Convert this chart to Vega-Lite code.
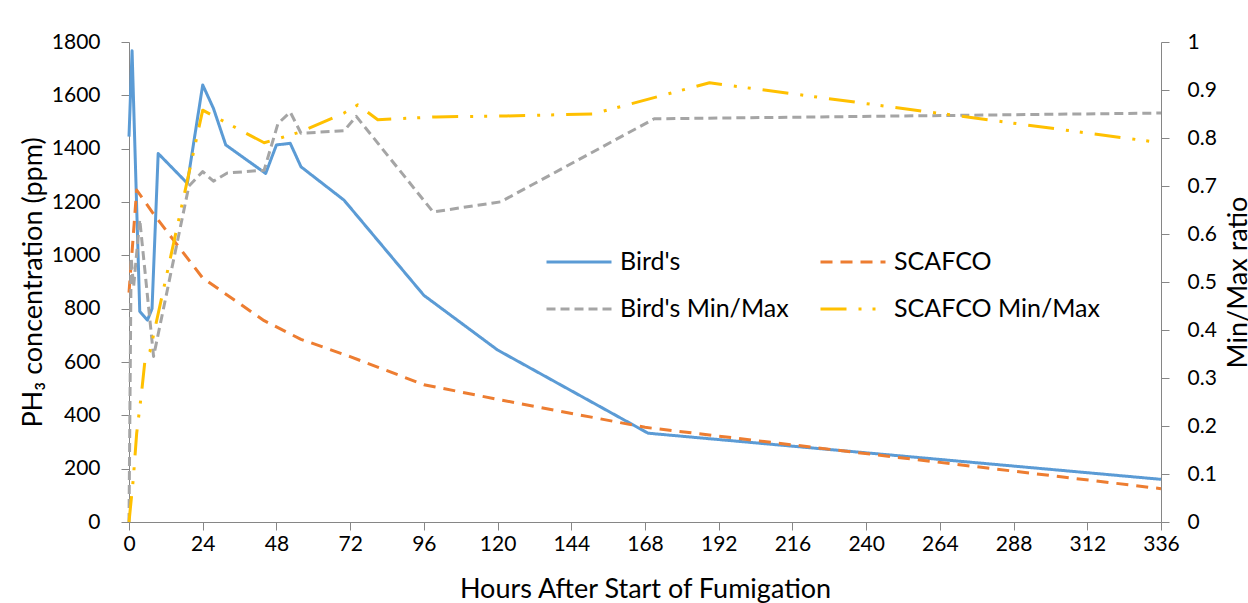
{
  "$schema": "https://vega.github.io/schema/vega-lite/v6.json",
  "width": 1032,
  "height": 480,
  "autosize": {"type": "none"},
  "padding": {"left": 129, "top": 42, "right": 87, "bottom": 81},
  "background": "white",
  "config": {
    "view": {"stroke": null},
    "font": "Lato",
    "axis": {
      "domainColor": "#868686",
      "tickColor": "#868686",
      "domainWidth": 1,
      "tickWidth": 1,
      "grid": false,
      "labelFont": "Lato",
      "labelFontSize": 21,
      "labelColor": "#000000",
      "titleFont": "Lato",
      "titleFontSize": 27,
      "titleFontWeight": "normal",
      "titleColor": "#000000"
    },
    "legend": {
      "orient": "none",
      "direction": "horizontal",
      "legendX": 416,
      "legendY": 186,
      "columns": 2,
      "columnPadding": 25,
      "rowPadding": -3,
      "symbolType": "stroke",
      "symbolSize": 4225,
      "symbolStrokeWidth": 3,
      "labelFont": "Lato",
      "labelFontSize": 25,
      "labelColor": "#000000",
      "labelOffset": 7,
      "labelLimit": 400
    }
  },
  "data": {
    "values": [
      {"series": "Bird's", "hours": 0, "value": 1445},
      {"series": "Bird's", "hours": 1, "value": 1767},
      {"series": "Bird's", "hours": 3.5, "value": 790},
      {"series": "Bird's", "hours": 6, "value": 757},
      {"series": "Bird's", "hours": 7.5, "value": 800},
      {"series": "Bird's", "hours": 9.5, "value": 1382},
      {"series": "Bird's", "hours": 19, "value": 1270},
      {"series": "Bird's", "hours": 24, "value": 1639},
      {"series": "Bird's", "hours": 27.5, "value": 1551},
      {"series": "Bird's", "hours": 31.5, "value": 1414},
      {"series": "Bird's", "hours": 44.5, "value": 1307},
      {"series": "Bird's", "hours": 48, "value": 1414},
      {"series": "Bird's", "hours": 52.5, "value": 1420},
      {"series": "Bird's", "hours": 56, "value": 1332},
      {"series": "Bird's", "hours": 70, "value": 1207},
      {"series": "Bird's", "hours": 96, "value": 850},
      {"series": "Bird's", "hours": 120, "value": 645},
      {"series": "Bird's", "hours": 169, "value": 333},
      {"series": "Bird's", "hours": 336, "value": 160},
      {"series": "SCAFCO", "hours": 0, "value": 860},
      {"series": "SCAFCO", "hours": 2.5, "value": 1245},
      {"series": "SCAFCO", "hours": 7.5, "value": 1163},
      {"series": "SCAFCO", "hours": 14.5, "value": 1057},
      {"series": "SCAFCO", "hours": 24, "value": 915},
      {"series": "SCAFCO", "hours": 44, "value": 755},
      {"series": "SCAFCO", "hours": 56, "value": 685},
      {"series": "SCAFCO", "hours": 72, "value": 620},
      {"series": "SCAFCO", "hours": 96, "value": 515},
      {"series": "SCAFCO", "hours": 120, "value": 460},
      {"series": "SCAFCO", "hours": 168, "value": 355},
      {"series": "SCAFCO", "hours": 336, "value": 125},
      {"series": "Bird's Min/Max", "hours": 0, "value": 0},
      {"series": "Bird's Min/Max", "hours": 0.7, "value": 0.55},
      {"series": "Bird's Min/Max", "hours": 1.5, "value": 0.49},
      {"series": "Bird's Min/Max", "hours": 3.5, "value": 0.63},
      {"series": "Bird's Min/Max", "hours": 8, "value": 0.345},
      {"series": "Bird's Min/Max", "hours": 19.5, "value": 0.7},
      {"series": "Bird's Min/Max", "hours": 24, "value": 0.73},
      {"series": "Bird's Min/Max", "hours": 27.5, "value": 0.71},
      {"series": "Bird's Min/Max", "hours": 32, "value": 0.727},
      {"series": "Bird's Min/Max", "hours": 44, "value": 0.733},
      {"series": "Bird's Min/Max", "hours": 48.5, "value": 0.83},
      {"series": "Bird's Min/Max", "hours": 52.5, "value": 0.854},
      {"series": "Bird's Min/Max", "hours": 56, "value": 0.81},
      {"series": "Bird's Min/Max", "hours": 70, "value": 0.815},
      {"series": "Bird's Min/Max", "hours": 74, "value": 0.845},
      {"series": "Bird's Min/Max", "hours": 99, "value": 0.646},
      {"series": "Bird's Min/Max", "hours": 121, "value": 0.667},
      {"series": "Bird's Min/Max", "hours": 171, "value": 0.84},
      {"series": "Bird's Min/Max", "hours": 336, "value": 0.852},
      {"series": "SCAFCO Min/Max", "hours": 0, "value": 0},
      {"series": "SCAFCO Min/Max", "hours": 1.4, "value": 0.09},
      {"series": "SCAFCO Min/Max", "hours": 2.5, "value": 0.185},
      {"series": "SCAFCO Min/Max", "hours": 4.1, "value": 0.27},
      {"series": "SCAFCO Min/Max", "hours": 5.2, "value": 0.337},
      {"series": "SCAFCO Min/Max", "hours": 6.8, "value": 0.355},
      {"series": "SCAFCO Min/Max", "hours": 24, "value": 0.858},
      {"series": "SCAFCO Min/Max", "hours": 44, "value": 0.79},
      {"series": "SCAFCO Min/Max", "hours": 56, "value": 0.813},
      {"series": "SCAFCO Min/Max", "hours": 70, "value": 0.852},
      {"series": "SCAFCO Min/Max", "hours": 74.5, "value": 0.869},
      {"series": "SCAFCO Min/Max", "hours": 81, "value": 0.838},
      {"series": "SCAFCO Min/Max", "hours": 100, "value": 0.844},
      {"series": "SCAFCO Min/Max", "hours": 123, "value": 0.846},
      {"series": "SCAFCO Min/Max", "hours": 151, "value": 0.85},
      {"series": "SCAFCO Min/Max", "hours": 189, "value": 0.915},
      {"series": "SCAFCO Min/Max", "hours": 336, "value": 0.79}
    ]
  },
  "encoding": {
    "x": {
      "field": "hours",
      "type": "quantitative",
      "scale": {"domain": [0, 336], "nice": false, "zero": false},
      "axis": {
        "title": "Hours After Start of Fumigation",
        "values": [0, 24, 48, 72, 96, 120, 144, 168, 192, 216, 240, 264, 288, 312, 336],
        "tickSize": 8,
        "labelPadding": 3,
        "titleBaseline": "alphabetic",
        "titleY": 75,
        "labelFlush": false,
        "labelOverlap": false
      }
    },
    "color": {
      "field": "series",
      "type": "nominal",
      "scale": {
        "domain": ["Bird's", "SCAFCO", "Bird's Min/Max", "SCAFCO Min/Max"],
        "range": ["#5B9BD5", "#ED7D31", "#A5A5A5", "#FFC000"]
      },
      "legend": {"title": null, "direction": "horizontal", "values": ["Bird's", "SCAFCO", "Bird's Min/Max", "SCAFCO Min/Max"]}
    },
    "strokeDash": {
      "field": "series",
      "type": "nominal",
      "scale": {
        "domain": ["Bird's", "SCAFCO", "Bird's Min/Max", "SCAFCO Min/Max"],
        "range": [[1, 0], [12, 8], [9, 5], [26, 12, 3, 11, 3, 12]]
      },
      "legend": {"title": null, "direction": "horizontal", "values": ["Bird's", "SCAFCO", "Bird's Min/Max", "SCAFCO Min/Max"]}
    }
  },
  "layer": [
    {
      "transform": [{"filter": "datum.series === \"Bird's\" || datum.series === 'SCAFCO'"}],
      "mark": {"type": "line", "strokeWidth": 3, "strokeCap": "butt", "strokeJoin": "round"},
      "encoding": {
        "y": {
          "field": "value",
          "type": "quantitative",
          "scale": {"domain": [0, 1800], "nice": false},
          "axis": {
            "title": "PH₃ concentration (ppm)",
            "values": [0, 200, 400, 600, 800, 1000, 1200, 1400, 1600, 1800],
            "format": "d",
            "tickSize": 8,
            "labelPadding": 21,
            "titleAngle": 270,
            "titleBaseline": "alphabetic",
            "titleAlign": "center",
            "titleX": -88,
            "titleY": 240
          }
        }
      }
    },
    {
      "transform": [{"filter": "datum.series === \"Bird's Min/Max\" || datum.series === 'SCAFCO Min/Max'"}],
      "mark": {"type": "line", "strokeWidth": 3, "strokeCap": "butt", "strokeJoin": "round"},
      "encoding": {
        "y": {
          "field": "value",
          "type": "quantitative",
          "scale": {"domain": [0, 1], "nice": false},
          "axis": {
            "orient": "right",
            "title": "Min/Max ratio",
            "values": [0, 0.1, 0.2, 0.3, 0.4, 0.5, 0.6, 0.7, 0.8, 0.9, 1],
            "format": "~g",
            "tickSize": 8,
            "labelPadding": 18,
            "titleAngle": 270,
            "titleBaseline": "alphabetic",
            "titleAlign": "center",
            "titleX": 85,
            "titleY": 240
          }
        }
      }
    }
  ],
  "resolve": {"scale": {"y": "independent"}}
}
